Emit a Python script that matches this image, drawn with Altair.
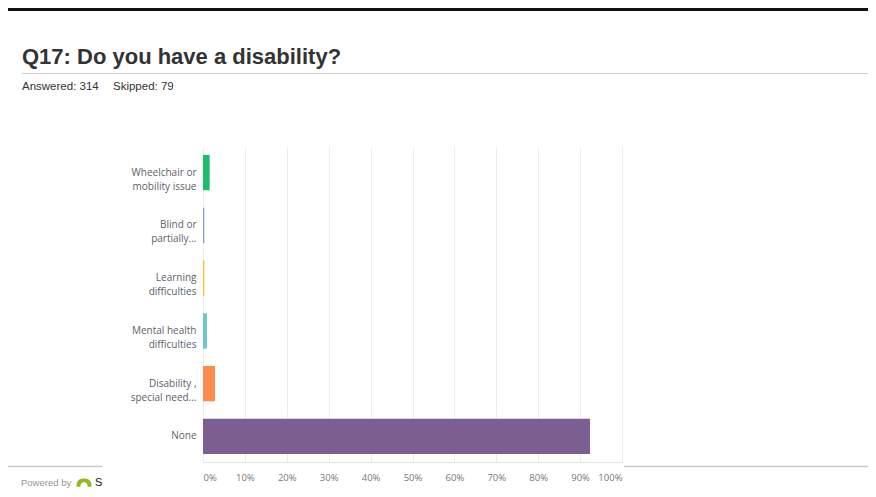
import altair as alt
import pandas as pd

# ---- data ----
categories = [
    "Wheelchair or|mobility issue",
    "Blind or|partially...",
    "Learning|difficulties",
    "Mental health|difficulties",
    "Disability ,|special need...",
    "None",
]
percentages = [1.59, 0.32, 0.32, 0.96, 2.87, 92.36]
bar_colors = ["#1ebd6c", "#8e9ed6", "#f5c032", "#6bc8cd", "#ff8b4f", "#7d5e90"]
x_ticks = [0, 10, 20, 30, 40, 50, 60, 70, 80, 90, 100]

title_text = "Q17: Do you have a disability?"
answered_text = "Answered: 314"
skipped_text = "Skipped: 79"

df = pd.DataFrame({"cat": categories, "pct": percentages, "color": bar_colors})
one = pd.DataFrame({"a": [0]})

LABEL_FONT = "Open Sans"
HEAD_FONT = "Liberation Sans"

bars = alt.Chart(df).mark_bar().encode(
    y=alt.Y(
        "cat:N",
        sort=None,
        scale=alt.Scale(paddingInner=0.33, paddingOuter=0.15),
        axis=alt.Axis(
            title=None,
            domain=False,
            ticks=False,
            labelPadding=7,
            labelFont=LABEL_FONT,
            labelFontSize=10,
            labelColor="#5e5e6b",
            labelLineHeight=14,
            labelExpr="split(datum.label, '|')",
        ),
    ),
    x=alt.X(
        "pct:Q",
        scale=alt.Scale(domain=[0, 100], nice=False),
        axis=alt.Axis(
            title=None,
            values=x_ticks,
            labelExpr="datum.value + '%'",
            grid=True,
            gridColor="#ececec",
            domain=True,
            domainColor="#e2e2e2",
            ticks=False,
            labelPadding=10,
            labelFlush=True,
            labelFont=LABEL_FONT,
            labelFontSize=9.5,
            labelColor="#777777",
        ),
    ),
    color=alt.Color("color:N", scale=None, legend=None),
)

def txt(text, x, y, size, color="#333333", weight="normal", font=HEAD_FONT):
    return alt.Chart(one).mark_text(
        text=text, align="left", baseline="alphabetic", fontSize=size,
        fontWeight=weight, font=font, color=color,
    ).encode(x=alt.value(x), y=alt.value(y))

def hrule(x1, x2, y, color, width):
    return alt.Chart(one).mark_rule(color=color, strokeWidth=width).encode(
        x=alt.value(x1), x2=alt.value(x2), y=alt.value(y))

def box(x1, x2, y1, y2, color):
    return alt.Chart(one).mark_rect(color=color, strokeWidth=0).encode(
        x=alt.value(x1), x2=alt.value(x2), y=alt.value(y1), y2=alt.value(y2))

title = txt(title_text, -181, -83, 22, "#333333", "bold")
answered = txt(answered_text, -181, -57, 11.5, "#333333")
skipped = txt(skipped_text, -90, -57, 11.5, "#333333")
title_line = hrule(-181, 665, -73.5, "#cfcfcf", 1)
bottom_left = hrule(-195, -101, 319.5, "#c8c8c8", 1.5)
bottom_right = hrule(421, 665, 319.5, "#c8c8c8", 1.5)
powered = txt("Powered by", -182, 339, 9.5, "#959595")
logo_path = ("M -1 0.5 L -1 0.1 Q -0.85 -0.6 0 -0.6 Q 0.85 -0.6 1 0.1 L 1 0.5 "
             "L 0.5 0.5 Q 0.45 -0.1 0 -0.1 Q -0.45 -0.1 -0.5 0.5 Z")
logo = alt.Chart(one).mark_point(
    shape=logo_path, size=220, filled=True, color="#93b81c", opacity=1
).encode(x=alt.value(-119), y=alt.value(336))
s_letter = txt("S", -108, 339, 11, "#111111")

border_top = box(-195, 665, -139, -136, "#111111")

chart = alt.layer(
    bars, title, answered, skipped, title_line, bottom_left, bottom_right,
    powered, logo, s_letter, border_top,
).properties(
    width=419,
    height=315,
    autosize=alt.AutoSizeParams(type="none"),
    padding={"left": 195, "top": 139, "right": 246, "bottom": 27},
).configure_view(stroke=None)

chart.save("out.html", embed_options={"renderer": "svg", "actions": False})
